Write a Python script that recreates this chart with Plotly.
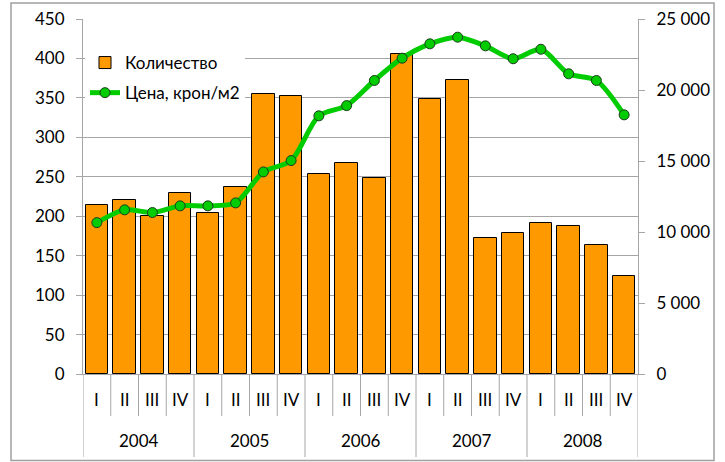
import plotly.graph_objects as go

quarters = ["I", "II", "III", "IV"] * 5
years = ["2004", "2005", "2006", "2007", "2008"]
quantity = [214, 220, 200, 229, 204, 237, 355, 353, 254, 268,
            248, 406, 348, 373, 172, 179, 192, 188, 163, 124]
price = [10660, 11560, 11370, 11840, 11840, 12050, 14230, 15030, 18180, 18900,
         20670, 22240, 23250, 23720, 23110, 22200, 22870, 21140, 20670, 18250]
left_ticks = [0, 50, 100, 150, 200, 250, 300, 350, 400, 450]
right_ticks = [0, 5000, 10000, 15000, 20000, 25000]
right_labels = ["0", "5 000", "10 000", "15 000", "20 000", "25 000"]

W, H = 725, 462
L, R, T, B = 83, 87, 19, 88
PW, PH = W - L - R, H - T - B


def xp(px):
    return (px - L) / PW


def yp(py):
    return (H - B - py) / PH


FONT = dict(family="Lato, Carlito, sans-serif", size=17, color="#000000")
GRAY = "#A6A6A6"

x = list(range(len(quantity)))

fig = go.Figure()
fig.add_trace(go.Bar(
    x=x, y=quantity, name="Количество", legendgroup="a",
    marker=dict(color="#FF9900", line=dict(color="#000000", width=1)),
    width=0.81,
))
fig.add_trace(go.Scatter(
    x=x, y=price, name="Цена, крон/м2", yaxis="y2", legendgroup="b",
    mode="lines+markers",
    line=dict(color="#00CC00", width=5, shape="spline", smoothing=0.8),
    marker=dict(size=10, color="#00CC00", line=dict(color="#1E3A1E", width=1)),
))

annotations = []
for i, q in enumerate(quarters):
    annotations.append(dict(x=i, y=yp(400), xref="x", yref="paper", text=q,
                            showarrow=False, font=FONT, yanchor="middle"))
for j, yr in enumerate(years):
    annotations.append(dict(x=4 * j + 1.5, y=yp(440), xref="x", yref="paper", text=yr,
                            showarrow=False, font=FONT, yanchor="middle"))

shapes = []
for k in range(len(quarters) + 1):
    bottom = 457 if k % 4 == 0 else 416
    shapes.append(dict(type="line", xref="x", yref="paper", x0=k - 0.5, x1=k - 0.5,
                       y0=0, y1=yp(bottom), line=dict(color=GRAY, width=1)))
shapes.append(dict(type="rect", xref="paper", yref="paper",
                   x0=xp(11), x1=xp(714), y0=yp(3), y1=yp(460.5),
                   line=dict(color="#A0A0A0", width=1.5), fillcolor="rgba(0,0,0,0)"))

fig.update_layout(
    width=W, height=H,
    margin=dict(l=L, r=R, t=T, b=B, autoexpand=False),
    paper_bgcolor="white", plot_bgcolor="white",
    font=FONT,
    showlegend=True,
    bargap=0,
    xaxis=dict(range=[-0.5, len(quantity) - 0.5], showticklabels=False, showgrid=False,
               zeroline=False, showline=True, linecolor=GRAY, ticks="", automargin=False),
    yaxis=dict(range=[0, 450], tickvals=left_ticks, showgrid=True, gridcolor=GRAY,
               gridwidth=1, zeroline=False, showline=True, linecolor=GRAY,
               ticks="outside", ticklen=6, tickcolor=GRAY, tickfont=FONT,
               ticklabelstandoff=8, automargin=False),
    yaxis2=dict(range=[0, 25000], tickvals=right_ticks, ticktext=right_labels,
                overlaying="y", side="right", showgrid=False, zeroline=False,
                showline=True, linecolor=GRAY, ticks="outside", ticklen=6,
                tickcolor=GRAY, tickfont=FONT, ticklabelstandoff=8, automargin=False),
    legend=dict(x=xp(85), y=yp(45), xanchor="left", yanchor="top",
                bgcolor="white", font=FONT, traceorder="grouped",
                tracegroupgap=5, borderwidth=0),
    annotations=annotations,
    shapes=shapes,
)

fig.write_html("out.html", config={"displayModeBar": False},
               post_script="document.body.style.margin='0px';")
